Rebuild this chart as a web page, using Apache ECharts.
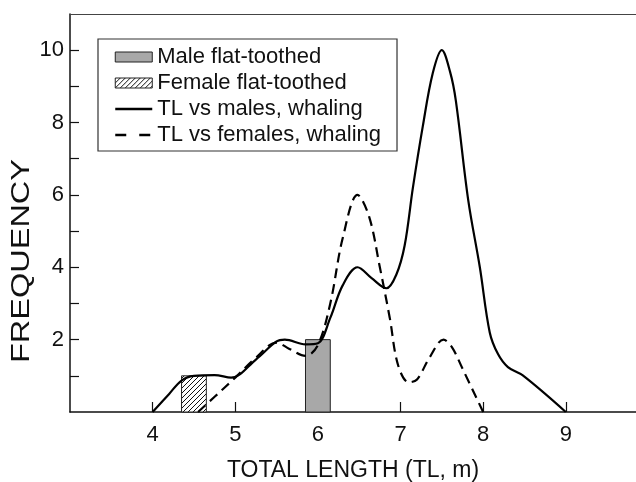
<!DOCTYPE html>
<html><head><meta charset="utf-8">
<script src="https://cdn.jsdelivr.net/npm/echarts@6/dist/echarts.min.js"></script>
<style>html,body{margin:0;padding:0;background:#fff}#c{width:636px;height:482px}</style>
</head><body><div id="c"></div>
<script>
// ---- data ----
const maleFlatToothed = [[6, 2]];      // [TL centre, frequency]
const femaleFlatToothed = [[4.5, 1]];
const barSpan = 0.3;                   // bar width in TL units
const maleWhaling = [
  [4,0],[4.2,0.5],[4.35,0.87],[4.5,1.0],[4.75,1.02],[4.95,0.95],[5.25,1.45],[5.5,1.95],[5.6,2.0],
  [5.85,1.87],[6.0,1.9],[6.15,2.6],[6.3,3.5],[6.48,4.0],[6.65,3.7],[6.83,3.42],[6.95,3.8],
  [7.05,4.6],[7.15,6.2],[7.27,7.9],[7.39,9.36],[7.5,10],[7.6,9.4],[7.67,8.6],[7.82,5.85],
  [7.96,4.0],[8.08,2.2],[8.18,1.6],[8.3,1.24],[8.48,1.01],[9,0]
];
const femaleWhaling = [
  [4.55,0],[4.75,0.42],[5.0,0.95],[5.25,1.5],[5.5,1.92],[5.65,1.75],[5.85,1.55],[6.0,1.85],
  [6.15,3.0],[6.3,4.8],[6.48,6.0],[6.62,5.4],[6.75,4.0],[6.87,2.6],[6.97,1.3],[7.1,0.82],
  [7.2,0.9],[7.35,1.5],[7.52,2.0],[7.62,1.8],[7.75,1.2],[8.0,0]
];
const xTickValues = [4,5,6,7,8,9];
const yTickValues = [1,2,3,4,5,6,7,8,9,10];
const yLabelValues = [2,4,6,8,10];
const seriesNames = ['Male flat-toothed','Female flat-toothed','TL vs males, whaling','TL vs females, whaling'];
const xTitle = 'TOTAL LENGTH (TL, m)';
const yTitle = 'FREQUENCY';

// ---- styles ----
const font = 'Liberation Sans, Arial, Helvetica, sans-serif';
function makeHatch(){
  const c = document.createElement('canvas');
  c.width = 5; c.height = 5;
  const g = c.getContext('2d');
  g.fillStyle = '#fff'; g.fillRect(0,0,5,5);
  g.strokeStyle = '#111'; g.lineWidth = 1;
  g.beginPath();
  g.moveTo(-1,6); g.lineTo(6,-1);
  g.moveTo(-1,1); g.lineTo(1,-1);
  g.moveTo(4,6); g.lineTo(6,4);
  g.stroke();
  return c;
}
const hatch = {image: makeHatch(), repeat: 'repeat'};

function barItem(fill){
  return function(params, api){
    const x = api.value(0), y = api.value(1);
    const p0 = api.coord([x - barSpan/2, y]);
    const p1 = api.coord([x + barSpan/2, 0]);
    return {type:'rect', shape:{x:p0[0], y:p0[1], width:p1[0]-p0[0], height:p1[1]-p0[1]},
      style:{fill: fill, stroke:'#222', lineWidth:1}};
  };
}

const chart = echarts.init(document.getElementById('c'), null, {renderer:'canvas'});
chart.setOption({
  animation: false,
  backgroundColor: '#fff',
  textStyle: {fontFamily: font},
  grid: {left: 70, top: 14, right: 0, height: 398, outerBoundsMode: 'none', containLabel: false},
  legend: {
    left: 98, top: 39, orient: 'vertical',
    borderColor: '#333', borderWidth: 1.2, padding: [7, 16, 5, 16],
    itemWidth: 37, itemHeight: 10, itemGap: 4, itemTextGap: 18,
    textStyle: {fontSize: 22, color: '#111', fontFamily: font, lineHeight: 21},
    data: [
      {name: seriesNames[0], icon: 'rect', itemStyle: {color: '#a8a8a8', borderColor: '#222', borderWidth: 1}},
      {name: seriesNames[1], icon: 'rect', itemStyle: {color: hatch, borderColor: '#222', borderWidth: 1}},
      {name: seriesNames[2], icon: 'inherit', itemStyle: {opacity: 0}, lineStyle: {width: 2.5}},
      {name: seriesNames[3], icon: 'inherit', itemStyle: {opacity: 0}, lineStyle: {width: 2.5, type: [11, 13]}}
    ]
  },
  graphic: [{
    type: 'text', x: 22, y: 261, rotation: Math.PI / 2, scaleX: 1.3,
    style: {text: yTitle, font: '25px ' + font, fill: '#111', align: 'center', verticalAlign: 'middle'}
  }],
  xAxis: [{
    type: 'value', min: 3, max: 9.85,
    name: xTitle, nameLocation: 'middle', nameGap: 47,
    nameTextStyle: {fontSize: 23, color: '#111', fontFamily: font},
    axisLine: {show: true, lineStyle: {color: '#111', width: 1.5}},
    axisTick: {show: true, inside: true, length: 10, customValues: xTickValues, lineStyle: {color: '#111', width: 1.2}},
    axisLabel: {customValues: xTickValues, fontSize: 22, color: '#111', margin: 12, fontFamily: font},
    splitLine: {show: false}
  }, {
    type: 'value', min: 3, max: 9.85, position: 'top',
    axisLine: {show: true, lineStyle: {color: '#444', width: 1.2}},
    axisTick: {show: false}, axisLabel: {show: false}, splitLine: {show: false}
  }],
  yAxis: {
    type: 'value', min: 0, max: 11,
    axisLine: {show: true, lineStyle: {color: '#111', width: 1.5}},
    axisTick: {show: true, inside: true, length: 9, customValues: yTickValues, lineStyle: {color: '#111', width: 1.2}},
    axisLabel: {customValues: yLabelValues, fontSize: 22, color: '#111', margin: 6, fontFamily: font},
    splitLine: {show: false}
  },
  series: [
    {name: seriesNames[0], type: 'custom', renderItem: barItem('#a8a8a8'), data: maleFlatToothed,
     encode: {x: 0, y: 1}, itemStyle: {color: '#a8a8a8'}, z: 1},
    {name: seriesNames[1], type: 'custom', renderItem: barItem(hatch), data: femaleFlatToothed,
     encode: {x: 0, y: 1}, itemStyle: {color: hatch}, z: 1},
    {name: seriesNames[2], type: 'line', data: maleWhaling, showSymbol: false, symbol: 'none',
     smooth: 0.35, lineStyle: {color: '#000', width: 2.2}, itemStyle: {color: '#000'}, z: 3},
    {name: seriesNames[3], type: 'line', data: femaleWhaling, showSymbol: false, symbol: 'none',
     smooth: 0.35, lineStyle: {color: '#000', width: 2.2, type: [10, 6]}, itemStyle: {color: '#000'}, z: 3}
  ]
});
</script></body></html>
